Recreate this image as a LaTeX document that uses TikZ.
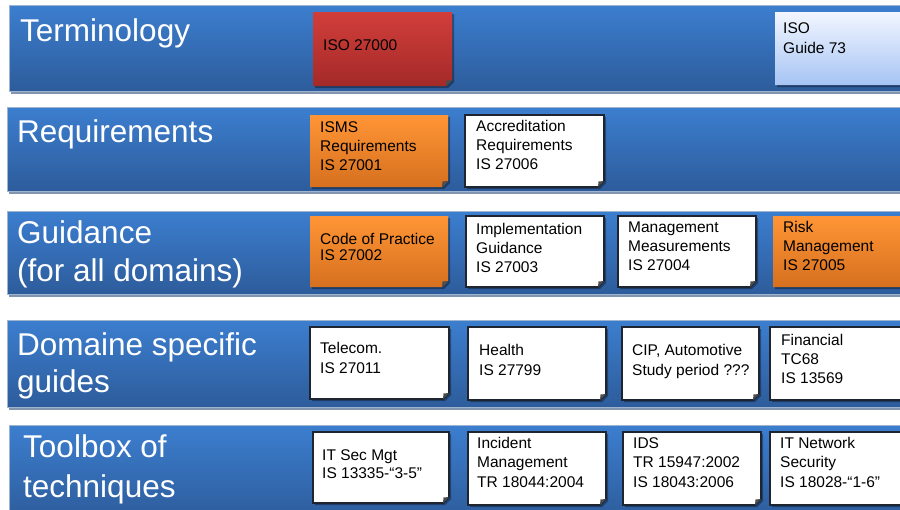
\documentclass[tikz,border=0pt]{standalone}
\usepackage{fontspec}
\setmainfont{Liberation Sans}
\definecolor{bandtop}{HTML}{3C7ECF}
\definecolor{bandbot}{HTML}{2D5C9B}
\definecolor{bandedge}{HTML}{9FB4CE}
\definecolor{bandshadow}{HTML}{8294AE}
\definecolor{redtop}{HTML}{D23E3A}
\definecolor{redbot}{HTML}{A32A28}
\definecolor{orgtop}{HTML}{FF9535}
\definecolor{orgbot}{HTML}{D6701F}
\definecolor{lbtop}{HTML}{F2F6FF}
\definecolor{lbbot}{HTML}{A6C4F4}
\definecolor{boxedge}{HTML}{1E2530}
\tikzset{
  bandfill/.style={top color=bandtop,bottom color=bandbot,draw=bandedge,line width=0.8pt},
  bandshade/.style={fill=bandshadow},
  redbox/.style={top color=redtop,bottom color=redbot,draw=none},
  orangebox/.style={top color=orgtop,bottom color=orgbot,draw=none},
  whitebox/.style={fill=white,draw=boxedge,line width=1.6pt},
  bluebox/.style={top color=lbtop,bottom color=lbbot,draw=none},
  boxshadow/.style={fill=black,opacity=0.35},
  foldtri/.style={fill=black!70},
  bandlabel/.style={anchor=base west,inner sep=0pt,text=white,font=\fontsize{31.5}{38}\selectfont},
  boxlabel/.style={anchor=base west,inner sep=0pt,text=black,font=\fontsize{15.5}{19}\selectfont},
}
\newcommand\docbox[5]{%
  \fill[boxshadow] (#2+2,#3+2) -- (#4+2,#3+2) -- (#4+2,#5-4) -- (#4-4,#5+2) -- (#2+2,#5+2) -- cycle;
  \path[#1] (#2,#3) -- (#4,#3) -- (#4,#5-6) -- (#4-6,#5) -- (#2,#5) -- cycle;
  \fill[foldtri] (#4,#5-6) -- (#4-6,#5) -- (#4-5.5,#5-5.5) -- cycle;
}
\newcommand\bandrect[4]{%
  \fill[bandshade] (#1+2,#2+3) rectangle (#3+2,#4+3);
  \path[bandfill] (#1,#2) rectangle (#3,#4);
}
\newcommand\txtlines[2]{\vtop{\baselineskip=#1pt\relax#2}}
\begin{document}
\begin{tikzpicture}[x=1pt,y=-1pt]
\useasboundingbox (0,0) rectangle (900,509);
\clip (0,0) rectangle (900,509);
% bands
\bandrect{9}{5}{910}{91}
\bandrect{7}{107}{910}{191}
\bandrect{7}{211}{910}{294}
\bandrect{7}{320}{910}{407}
\bandrect{9}{425}{910}{520}
% band labels
\node[bandlabel] (lterm) at (20,41) {Terminology};
\node[bandlabel] (lreq) at (17,142) {Requirements};
\node[bandlabel] (lguid) at (17,243) {\txtlines{38}{\hbox{Guidance}\hbox{(for all domains)}}};
\node[bandlabel] (ldom) at (17,355) {\txtlines{37}{\hbox{Domaine specific}\hbox{guides}}};
\node[bandlabel] (ltool) at (23,457) {\txtlines{40}{\hbox{Toolbox of}\hbox{techniques}}};
% boxes
\docbox{redbox}{313}{12}{452}{86}
\docbox{bluebox}{775}{12}{912}{85}
\docbox{orangebox}{310}{115}{448}{187}
\docbox{whitebox}{465}{115}{604}{187}
\docbox{orangebox}{310}{216}{448}{287}
\docbox{whitebox}{466}{216}{604}{287}
\docbox{whitebox}{618}{216}{756}{287}
\docbox{orangebox}{773}{216}{912}{287}
\docbox{whitebox}{310}{327}{449}{399}
\docbox{whitebox}{468}{327}{606}{400}
\docbox{whitebox}{622}{327}{759}{400}
\docbox{whitebox}{770}{327}{912}{400}
\docbox{whitebox}{313}{432}{449}{503}
\docbox{whitebox}{468}{432}{606}{505}
\docbox{whitebox}{623}{432}{761}{505}
\docbox{whitebox}{770}{432}{912}{505}
% box texts
\node[boxlabel] (t27000) at (323,50) {ISO 27000};
\node[boxlabel] (tguide) at (783,33) {\txtlines{20}{\hbox{ISO}\hbox{Guide 73}}};
\node[boxlabel] (t27001) at (320,132) {\txtlines{19}{\hbox{ISMS}\hbox{Requirements}\hbox{IS 27001}}};
\node[boxlabel] (t27006) at (476,131) {\txtlines{19}{\hbox{Accreditation}\hbox{Requirements}\hbox{IS 27006}}};
\node[boxlabel] (t27002) at (320,244) {\txtlines{16}{\hbox{Code of Practice}\hbox{IS 27002}}};
\node[boxlabel] (t27003) at (476,234) {\txtlines{19}{\hbox{Implementation}\hbox{Guidance}\hbox{IS 27003}}};
\node[boxlabel] (t27004) at (628,232) {\txtlines{19}{\hbox{Management}\hbox{Measurements}\hbox{IS 27004}}};
\node[boxlabel] (t27005) at (783,232) {\txtlines{19}{\hbox{Risk}\hbox{Management}\hbox{IS 27005}}};
\node[boxlabel] (t27011) at (320,353) {\txtlines{20}{\hbox{Telecom.}\hbox{IS 27011}}};
\node[boxlabel] (t27799) at (479,355) {\txtlines{20}{\hbox{Health}\hbox{IS 27799}}};
\node[boxlabel] (tcip) at (632,355) {\txtlines{20}{\hbox{CIP, Automotive}\hbox{Study period ???}}};
\node[boxlabel] (t13569) at (781,345) {\txtlines{19}{\hbox{Financial}\hbox{TC68}\hbox{IS 13569}}};
\node[boxlabel] (t13335) at (322,460) {\txtlines{18}{\hbox{IT Sec Mgt}\hbox{IS 13335-“3-5”}}};
\node[boxlabel] (t18044) at (477,448) {\txtlines{19.5}{\hbox{Incident}\hbox{Management}\hbox{TR 18044:2004}}};
\node[boxlabel] (t18043) at (633,448) {\txtlines{19.5}{\hbox{IDS}\hbox{TR 15947:2002}\hbox{IS 18043:2006}}};
\node[boxlabel] (t18028) at (780,448) {\txtlines{19.5}{\hbox{IT Network}\hbox{Security}\hbox{IS 18028-“1-6”}}};
\end{tikzpicture}
\end{document}
